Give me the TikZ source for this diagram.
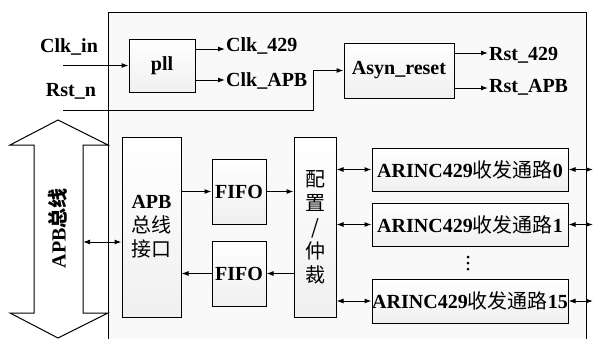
\documentclass[tikz,border=0pt]{standalone}
\usepackage{fontspec}
\setmainfont{Liberation Serif}
\newfontfamily\cjk{Noto Sans CJK SC}
\usetikzlibrary{arrows.meta,shadows}
\newcommand\zh[1]{{\cjk\mdseries #1}}
\begin{document}
\begin{tikzpicture}[x=1pt,y=-1pt,
  every node/.style={font=\fontsize{20}{24}\selectfont\bfseries, inner sep=0pt},
  box/.style={draw, line width=1pt, top color=white, bottom color=gray!12,
    drop shadow={shadow xshift=1.2pt,shadow yshift=-1.2pt,opacity=0.35}},
  arr/.style={line width=1pt, -{Latex[length=7pt,width=5pt]}},
  darr/.style={line width=1pt, {Latex[length=7pt,width=5pt]}-{Latex[length=7pt,width=5pt]}},
  lab/.style={anchor=west}]
\useasboundingbox (0,0) rectangle (594,338);
% chip outline
\node[draw, line width=1pt, fill=gray!5, minimum width=478pt, minimum height=340pt, anchor=north west] (chip) at (108,12) {};
% APB bus
\draw[line width=1pt, fill=white] (58,120) -- (108,145) -- (83,145) -- (83,313) -- (108,313) -- (58,338) -- (10,313) -- (34,313) -- (34,145) -- (10,145) -- cycle;
\node[rotate=90] (bus) at (58,228) {APB{\cjk 总线}};
\coordinate (busR) at (83,242);
% top section
\node (clkin) at (69,47) {Clk\_in};
\node (rstn) at (71,91) {Rst\_n};
\coordinate (clkinS) at (63,65.5);
\coordinate (rstnS) at (63,110);
\node[box, minimum width=66pt, minimum height=53pt] (pll) at (162,65.5) {pll};
\node[box, minimum width=110pt, minimum height=55pt] (asyn) at (399,70.5) {Asyn\_reset};
\coordinate (a429) at (225,49);
\coordinate (aapb) at (225,80);
\coordinate (r429) at (488,53);
\coordinate (rapb) at (488,88);
\coordinate (bend) at (313,110);
\node[lab] (t429) at (226,46) {Clk\_429};
\node[lab] (tapb) at (226,81) {Clk\_APB};
\node[lab] (u429) at (489,55) {Rst\_429};
\node[lab] (uapb) at (489,87) {Rst\_APB};
\draw[arr] (clkinS) -- (pll.west |- clkinS);
\draw[arr] (pll.east |- a429) -- (a429);
\draw[arr] (pll.east |- aapb) -- (aapb);
\draw[arr] (rstnS) -- (bend) -- (bend |- asyn.west) -- (asyn.west);
\draw[arr] (asyn.east |- r429) -- (r429);
\draw[arr] (asyn.east |- rapb) -- (rapb);
% bottom section
\node[box, minimum width=59pt, minimum height=180pt, align=center] (apbif) at (151.5,227) {APB\\\zh{总线}\\\zh{接口}};
\node[box, minimum width=54pt, minimum height=65pt] (fifo1) at (239,191.5) {FIFO};
\node[box, minimum width=54pt, minimum height=65pt] (fifo2) at (239,273.5) {FIFO};
\node[box, minimum width=42pt, minimum height=180pt, align=center] (cfg) at (315,227) {\zh{配}\\\zh{置}\\\zh{/}\\\zh{仲}\\\zh{裁}};
\node[box, minimum width=196pt, minimum height=43pt] (ch0) at (470,169.5) {ARINC429\zh{收发通路}0};
\node[box, minimum width=196pt, minimum height=43pt] (ch1) at (470,224.5) {ARINC429\zh{收发通路}1};
\node[box, minimum width=196pt, minimum height=44pt] (ch15) at (470,301) {ARINC429\zh{收发通路}15};
\fill (468,257) circle (1.5pt) (468,263) circle (1.5pt) (468,269) circle (1.5pt);
\draw[darr] (busR) -- (apbif.west |- busR);
\draw[arr] (apbif.east |- fifo1.west) -- (fifo1.west);
\draw[arr] (fifo1.east) -- (cfg.west |- fifo1.east);
\draw[arr] (cfg.west |- fifo2.east) -- (fifo2.east);
\draw[arr] (fifo2.west) -- (apbif.east |- fifo2.west);
\draw[darr] (cfg.east |- ch0.west) -- (ch0.west);
\draw[darr] (cfg.east |- ch1.west) -- (ch1.west);
\draw[darr] (cfg.east |- ch15.west) -- (ch15.west);
\coordinate (e0) at (593,169.5);
\coordinate (e1) at (593,224.5);
\coordinate (e15) at (593,301);
\draw[darr] (ch0.east) -- (e0);
\draw[darr] (ch1.east) -- (e1);
\draw[darr] (ch15.east) -- (e15);
\end{tikzpicture}
\end{document}
